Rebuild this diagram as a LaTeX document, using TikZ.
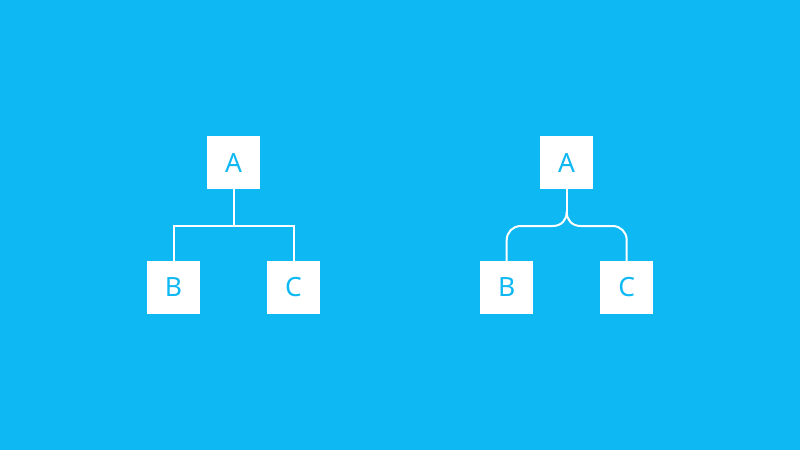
\documentclass[tikz,border=0pt]{standalone}
\usepackage{fontspec}
\setmainfont{Noto Sans}
\definecolor{bgblue}{HTML}{0EB8F2}
\begin{document}
\begin{tikzpicture}[x=1pt,y=-1pt,
  box/.style={fill=white,draw=none,minimum size=53pt,inner sep=0pt,text=bgblue,font=\fontsize{26.5}{30}\selectfont},
  link/.style={draw=white,line width=2pt}]
\fill[bgblue] (0,0) rectangle (800,450);
\useasboundingbox (0,0) rectangle (800,450);
% left tree
\node[box] (A1) at (233.5,162.5) {A};
\node[box] (B1) at (173.5,287.5) {B};
\node[box] (C1) at (293.5,287.5) {C};
\coordinate (J1) at (233.5,226);
\draw[link] (A1.south) -- (J1);
\draw[link] (J1) -| (B1.north);
\draw[link] (J1) -| (C1.north);
% right tree
\node[box] (A2) at (566.7,162.5) {A};
\node[box] (B2) at (506.7,287.5) {B};
\node[box] (C2) at (626.7,287.5) {C};
\coordinate (J2) at (566.7,212);
\draw[link] (A2.south) -- (J2);
\draw[link] (J2) .. controls (566.7,219.7) and (561.7,226) .. (552.7,226) -- (520.7,226) .. controls (512.9,226) and (506.7,232.2) .. (506.7,240) -- (B2.north);
\draw[link] (J2) .. controls (566.7,219.7) and (571.7,226) .. (580.7,226) -- (612.7,226) .. controls (620.5,226) and (626.7,232.2) .. (626.7,240) -- (C2.north);
\end{tikzpicture}
\end{document}
